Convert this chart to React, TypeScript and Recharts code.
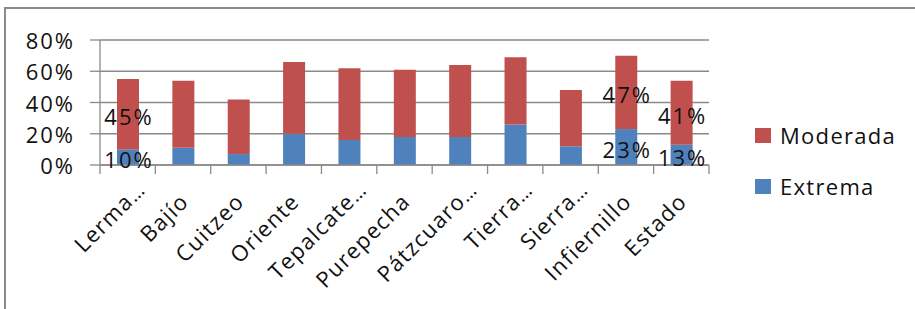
import React from "react";
import { BarChart, Bar, XAxis, YAxis, CartesianGrid, Legend, LabelList } from "recharts";

const categories = ["Lerma…", "Bajío", "Cuitzeo", "Oriente", "Tepalcate…", "Purepecha", "Pátzcuaro…", "Tierra…", "Sierra…", "Infiernillo", "Estado"];
const extrema = [0.10, 0.11, 0.07, 0.20, 0.16, 0.18, 0.18, 0.26, 0.12, 0.23, 0.13];
const moderada = [0.45, 0.43, 0.35, 0.46, 0.46, 0.43, 0.46, 0.43, 0.36, 0.47, 0.41];
const labeledCategories = ["Lerma…", "Infiernillo", "Estado"];
const yTicks = [0, 0.2, 0.4, 0.6, 0.8];

const data = categories.map((c, i) => ({ name: c, Extrema: extrema[i], Moderada: moderada[i] }));

const W = 915;
const H = 309;
const PLOT_LEFT = 100;
const PLOT_RIGHT = 709;
const PLOT_TOP = 40;
const X_AXIS_H = 144;
const AXIS_Y = H - X_AXIS_H;
const BAND = (PLOT_RIGHT - PLOT_LEFT) / categories.length;
const GRAY = "#8a8a8a";
const FONT = "'Open Sans', sans-serif";
const TEXT = "#111";
const BLUE = "#4F81BD";
const RED = "#C0504D";
const FS = 22;
const LS_NUM = 2;
const LS_TXT = 1.3;

const pct = (v: number) => `${Math.round(v * 100)}%`;

const YTick = (props: any) => {
  const { y, payload } = props;
  return (
    <text x={73 + LS_NUM} y={y} textAnchor="end" dominantBaseline="central" fontFamily={FONT} fontSize={FS} letterSpacing={LS_NUM} fill={TEXT}>
      {pct(payload.value)}
    </text>
  );
};

const XTick = (props: any) => {
  const { x, payload, index } = props;
  const label: string = String(payload.value);
  const hasEll = label.endsWith("…");
  const base = hasEll ? label.slice(0, -1) : label;
  const ax = x + 7;
  const ay = AXIS_Y + 38;
  const idx = typeof index === "number" ? index : payload.index;
  return (
    <g>
      <line x1={x - BAND / 2} x2={x - BAND / 2} y1={AXIS_Y} y2={AXIS_Y + 9} stroke={GRAY} strokeWidth={1.3} />
      {idx === categories.length - 1 && (
        <line x1={x + BAND / 2} x2={x + BAND / 2} y1={AXIS_Y} y2={AXIS_Y + 9} stroke={GRAY} strokeWidth={1.3} />
      )}
      <g transform={`translate(${ax},${ay}) rotate(-45)`}>
        <text x={0} y={0} textAnchor="end" fontFamily={FONT} fontSize={FS} letterSpacing={LS_TXT} fill={TEXT}>
          {base}
        </text>
        {hasEll && (
          <text x={0} y={0} textAnchor="start" fontFamily={FONT} fontSize={FS - 2} fill={TEXT}>
            …
          </text>
        )}
      </g>
    </g>
  );
};

const makeLabel = (props: any) => {
  const { x, y, width, height, value, index } = props;
  if (value == null) return null;
  if (!labeledCategories.includes(categories[index])) return null;
  return (
    <text
      x={Number(x) + Number(width) / 2 + 1}
      y={Number(y) + Number(height) / 2 + 2}
      textAnchor="middle"
      dominantBaseline="central"
      fontFamily={FONT}
      fontSize={FS}
      letterSpacing={LS_NUM}
      fill={TEXT}
    >
      {pct(Number(value))}
    </text>
  );
};

const LegendContent = (props: any) => {
  const items = [...(props.payload || [])].reverse();
  return (
    <div>
      {items.map((it: any) => (
        <div key={it.value} style={{ height: 51, display: "flex", alignItems: "center" }}>
          <div style={{ width: 16, height: 15, background: it.color, marginRight: 9 }} />
          <span style={{ fontFamily: FONT, fontSize: FS, letterSpacing: LS_TXT, color: TEXT, lineHeight: "51px" }}>{it.value}</span>
        </div>
      ))}
    </div>
  );
};

export default function App() {
  return (
    <div style={{ position: "absolute", left: 0, top: 0, width: W, height: H, background: "#fff", overflow: "hidden" }}>
      <div
        style={{
          position: "absolute",
          left: 4,
          top: 7,
          width: W + 20,
          height: H + 20,
          borderTop: `2px solid ${GRAY}`,
          borderLeft: `2px solid ${GRAY}`,
        }}
      />
      <div style={{ position: "absolute", left: 0, top: 0 }}>
        <BarChart
          width={W}
          height={H}
          data={data}
          margin={{ top: PLOT_TOP, right: W - PLOT_RIGHT, left: 0, bottom: 0 }}
          barSize={22}
        >
          <CartesianGrid vertical={false} stroke={GRAY} strokeWidth={1.3} />
          <XAxis
            dataKey="name"
            height={X_AXIS_H}
            interval={0}
            tickLine={false}
            axisLine={{ stroke: GRAY, strokeWidth: 1.3 }}
            tick={XTick}
          />
          <YAxis
            width={PLOT_LEFT}
            domain={[0, 0.8]}
            ticks={yTicks}
            tickSize={10}
            tickLine={{ stroke: GRAY, strokeWidth: 1.3 }}
            axisLine={{ stroke: GRAY, strokeWidth: 1.3 }}
            tick={YTick}
          />
          <Legend
            layout="horizontal"
            verticalAlign="middle"
            align="center"
            content={LegendContent}
            wrapperStyle={{ left: 755, top: 109.5, width: 160, height: 110 }}
          />
          <Bar dataKey="Extrema" stackId="a" fill={BLUE} isAnimationActive={false}>
            <LabelList dataKey="Extrema" content={makeLabel} />
          </Bar>
          <Bar dataKey="Moderada" stackId="a" fill={RED} isAnimationActive={false}>
            <LabelList dataKey="Moderada" content={makeLabel} />
          </Bar>
        </BarChart>
      </div>
    </div>
  );
}
